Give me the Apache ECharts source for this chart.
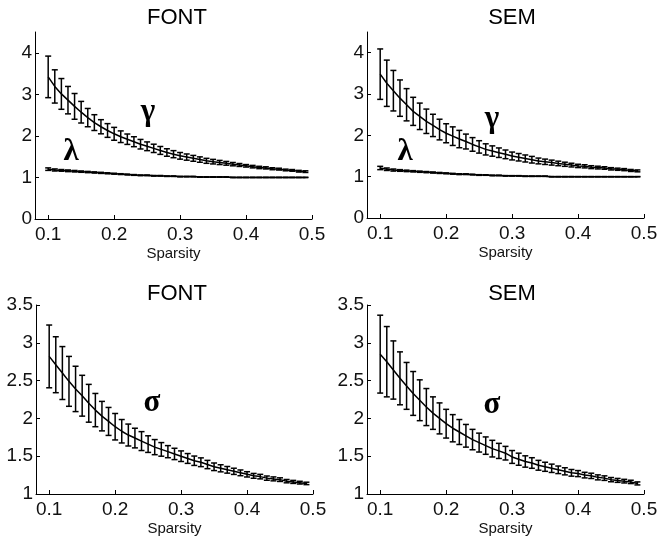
<!DOCTYPE html>
<html>
<head>
<meta charset="utf-8">
<script src="https://cdn.jsdelivr.net/npm/echarts@6/dist/echarts.min.js"></script>
<style>html,body{margin:0;padding:0;background:#fff}#c{width:664px;height:545px}</style>
</head>
<body>
<div id="c"></div>
<script>
// ---- data ----
var sparsity = [0.10,0.11,0.12,0.13,0.14,0.15,0.16,0.17,0.18,0.19,
                0.20,0.21,0.22,0.23,0.24,0.25,0.26,0.27,0.28,0.29,
                0.30,0.31,0.32,0.33,0.34,0.35,0.36,0.37,0.38,0.39,
                0.40,0.41,0.42,0.43,0.44,0.45,0.46,0.47,0.48,0.49];
var xTicks = [0.1,0.2,0.3,0.4,0.5];
var yTicksTop = [0,1,2,3,4];
var yTicksBottom = [1,1.5,2,2.5,3,3.5];
var panelTitles = ["FONT","SEM","FONT","SEM"];

var fontGamma = [3.42,3.19,3.01,2.86,2.71,2.57,2.44,2.32,2.22,2.13,
                 2.05,1.98,1.92,1.86,1.80,1.75,1.70,1.65,1.60,1.56,
                 1.52,1.49,1.46,1.43,1.40,1.38,1.36,1.34,1.32,1.30,
                 1.28,1.26,1.24,1.23,1.21,1.20,1.18,1.17,1.15,1.14];
var fontGammaErr = [0.50,0.40,0.37,0.33,0.31,0.26,0.22,0.19,0.17,0.165,
                    0.155,0.14,0.125,0.12,0.115,0.105,0.10,0.095,0.09,0.085,
                    0.08,0.075,0.07,0.065,0.06,0.055,0.05,0.045,0.04,0.035,
                    0.03,0.03,0.028,0.026,0.024,0.022,0.02,0.02,0.02,0.02];
var fontLambda = [1.20,1.18,1.17,1.16,1.15,1.14,1.13,1.12,1.11,1.10,
                  1.09,1.08,1.07,1.06,1.05,1.05,1.04,1.04,1.03,1.03,
                  1.02,1.02,1.02,1.01,1.01,1.01,1.01,1.01,1.00,1.00,
                  1.00,1.00,1.00,1.00,1.00,1.00,1.00,1.00,1.00,1.00];
var fontLambdaErr = [0.03,0.025,0.02,0.02,0.018,0.016,0.015,0.014,0.013,0.012,
                     0.011,0.01,0.01,0.009,0.008,0.008,0.007,0.007,0.006,0.006,
                     0.005,0.005,0.005,0.005,0.004,0.004,0.004,0.004,0.004,0.004,
                     0.003,0.003,0.003,0.003,0.003,0.003,0.003,0.003,0.003,0.003];

var semGamma = [3.48,3.26,3.08,2.90,2.74,2.58,2.46,2.34,2.24,2.14,
                2.05,1.98,1.91,1.85,1.78,1.72,1.66,1.62,1.58,1.54,
                1.50,1.47,1.44,1.41,1.38,1.36,1.34,1.32,1.30,1.28,
                1.26,1.25,1.23,1.22,1.21,1.19,1.18,1.17,1.15,1.14];
var semGammaErr = [0.61,0.56,0.49,0.44,0.39,0.34,0.32,0.295,0.27,0.25,
                   0.23,0.225,0.21,0.18,0.165,0.15,0.135,0.125,0.115,0.105,
                   0.095,0.09,0.085,0.08,0.07,0.065,0.06,0.055,0.05,0.045,
                   0.04,0.038,0.035,0.033,0.03,0.028,0.026,0.025,0.024,0.023];
var semLambda = [1.21,1.18,1.16,1.15,1.14,1.13,1.12,1.11,1.10,1.09,
                 1.08,1.07,1.06,1.06,1.05,1.04,1.04,1.03,1.03,1.02,
                 1.02,1.02,1.01,1.01,1.01,1.01,1.00,1.00,1.00,1.00,
                 1.00,1.00,1.00,1.00,1.00,1.00,1.00,1.00,1.00,1.00];
var semLambdaErr = [0.04,0.03,0.025,0.02,0.018,0.016,0.015,0.014,0.013,0.012,
                    0.011,0.01,0.01,0.009,0.008,0.008,0.007,0.007,0.006,0.006,
                    0.005,0.005,0.005,0.005,0.004,0.004,0.004,0.004,0.004,0.004,
                    0.003,0.003,0.003,0.003,0.003,0.003,0.003,0.003,0.003,0.003];

var fontSigma = [2.82,2.71,2.60,2.49,2.39,2.30,2.20,2.11,2.03,1.96,
                 1.89,1.83,1.78,1.74,1.70,1.66,1.62,1.59,1.56,1.53,
                 1.50,1.47,1.44,1.42,1.39,1.36,1.34,1.32,1.30,1.28,
                 1.26,1.24,1.23,1.21,1.20,1.19,1.17,1.16,1.15,1.14];
var fontSigmaErr = [0.415,0.37,0.35,0.33,0.30,0.27,0.25,0.22,0.195,0.185,
                    0.175,0.155,0.145,0.13,0.125,0.11,0.10,0.09,0.08,0.075,
                    0.07,0.065,0.062,0.058,0.055,0.05,0.047,0.044,0.041,0.038,
                    0.035,0.032,0.03,0.028,0.026,0.024,0.022,0.02,0.018,0.016];
var semSigma = [2.85,2.75,2.64,2.53,2.43,2.33,2.24,2.15,2.07,2.00,
                1.93,1.87,1.82,1.77,1.72,1.68,1.64,1.60,1.57,1.54,
                1.49,1.46,1.43,1.41,1.38,1.36,1.34,1.32,1.30,1.28,
                1.27,1.25,1.24,1.22,1.21,1.19,1.18,1.17,1.16,1.14];
var semSigmaErr = [0.515,0.465,0.385,0.35,0.31,0.29,0.27,0.245,0.215,0.205,
                   0.19,0.18,0.165,0.15,0.135,0.125,0.115,0.11,0.10,0.09,
                   0.085,0.08,0.075,0.07,0.065,0.06,0.055,0.05,0.047,0.044,
                   0.04,0.037,0.035,0.033,0.03,0.028,0.026,0.024,0.022,0.02];

// ---- chart ----
var chart = echarts.init(document.getElementById('c'), null, {renderer:'canvas'});
var grids = [
  {left:35, top:32, width:277, height:187},
  {left:367, top:32, width:277, height:186},
  {left:36, top:305, width:277, height:189},
  {left:367, top:305, width:277, height:189}
];
var labelFont = {color:'#111', fontFamily:'Arial, "Liberation Sans", sans-serif', fontSize:19};

function xAxisFor(i){
  return {
    type:'value', gridIndex:i, min:0.08, max:0.5,
    name:'Sparsity', nameLocation:'middle', nameGap:27,
    nameTextStyle:{color:'#111', fontFamily:'Arial, "Liberation Sans", sans-serif', fontSize:15},
    axisLine:{show:true, onZero:false, lineStyle:{color:'#000', width:1}},
    axisTick:{show:true, inside:true, length:4, customValues:xTicks, lineStyle:{color:'#000'}},
    axisLabel:Object.assign({margin:6, customValues:xTicks, formatter:function(v){return String(v);}}, labelFont),
    splitLine:{show:false}
  };
}
function yAxisFor(i, min, max, ticks){
  return {
    type:'value', gridIndex:i, min:min, max:max,
    axisLine:{show:true, lineStyle:{color:'#000', width:1}},
    axisTick:{show:true, inside:true, length:4, customValues:ticks, lineStyle:{color:'#000'}},
    axisLabel:Object.assign({margin:3, customValues:ticks, formatter:function(v){return String(v);}}, labelFont),
    splitLine:{show:false}
  };
}

function errData(mean, err){
  return sparsity.map(function(x,k){ return [x, mean[k]-err[k], mean[k]+err[k]]; });
}
function lineData(mean){
  return sparsity.map(function(x,k){ return [x, mean[k]]; });
}
function renderErr(params, api){
  var x = api.value(0);
  var lo = api.coord([x, api.value(1)]);
  var hi = api.coord([x, api.value(2)]);
  var w = 3;
  var st = {stroke:'#000', lineWidth:1.5};
  return {type:'group', children:[
    {type:'line', shape:{x1:lo[0], y1:lo[1], x2:hi[0], y2:hi[1]}, style:st},
    {type:'line', shape:{x1:hi[0]-w, y1:hi[1], x2:hi[0]+w, y2:hi[1]}, style:st},
    {type:'line', shape:{x1:lo[0]-w, y1:lo[1], x2:lo[0]+w, y2:lo[1]}, style:st}
  ]};
}
function curve(i, mean, err){
  return [
    {type:'line', xAxisIndex:i, yAxisIndex:i, data:lineData(mean), showSymbol:false, symbol:'none',
     lineStyle:{color:'#000', width:1.5}, silent:true, animation:false, z:3},
    {type:'custom', xAxisIndex:i, yAxisIndex:i, data:errData(mean, err), renderItem:renderErr,
     silent:true, animation:false, z:2}
  ];
}

var titleStyle = {color:'#000', fontFamily:'Arial, "Liberation Sans", sans-serif', fontSize:22, fontWeight:'normal'};
var greekStyle = {fill:'#000', font:'bold 31px "Liberation Serif", "DejaVu Serif", serif', textAlign:'center', textVerticalAlign:'middle'};

var option = {
  animation:false,
  backgroundColor:'#fff',
  title:[
    {text:panelTitles[0], left:172, top:2, textAlign:'center', textStyle:titleStyle},
    {text:panelTitles[1], left:507, top:2, textAlign:'center', textStyle:titleStyle},
    {text:panelTitles[2], left:172, top:278, textAlign:'center', textStyle:titleStyle},
    {text:panelTitles[3], left:507, top:278, textAlign:'center', textStyle:titleStyle}
  ],
  grid:grids,
  xAxis:[xAxisFor(0), xAxisFor(1), xAxisFor(2), xAxisFor(3)],
  yAxis:[yAxisFor(0,0,4.5,yTicksTop), yAxisFor(1,0,4.5,yTicksTop),
         yAxisFor(2,1,3.5,yTicksBottom), yAxisFor(3,1,3.5,yTicksBottom)],
  series:[].concat(
    curve(0, fontGamma, fontGammaErr), curve(0, fontLambda, fontLambdaErr),
    curve(1, semGamma, semGammaErr), curve(1, semLambda, semLambdaErr),
    curve(2, fontSigma, fontSigmaErr), curve(3, semSigma, semSigmaErr)
  ),
  graphic:[
    {type:'text', x:148, y:112, style:Object.assign({text:'γ'}, greekStyle)},
    {type:'text', x:71, y:152, style:Object.assign({text:'λ'}, greekStyle)},
    {type:'text', x:492, y:119, style:Object.assign({text:'γ'}, greekStyle)},
    {type:'text', x:405, y:152, style:Object.assign({text:'λ'}, greekStyle)},
    {type:'text', x:152, y:403, style:Object.assign({text:'σ'}, greekStyle)},
    {type:'text', x:492, y:405, style:Object.assign({text:'σ'}, greekStyle)}
  ]
};
chart.setOption(option);
</script>
</body>
</html>
